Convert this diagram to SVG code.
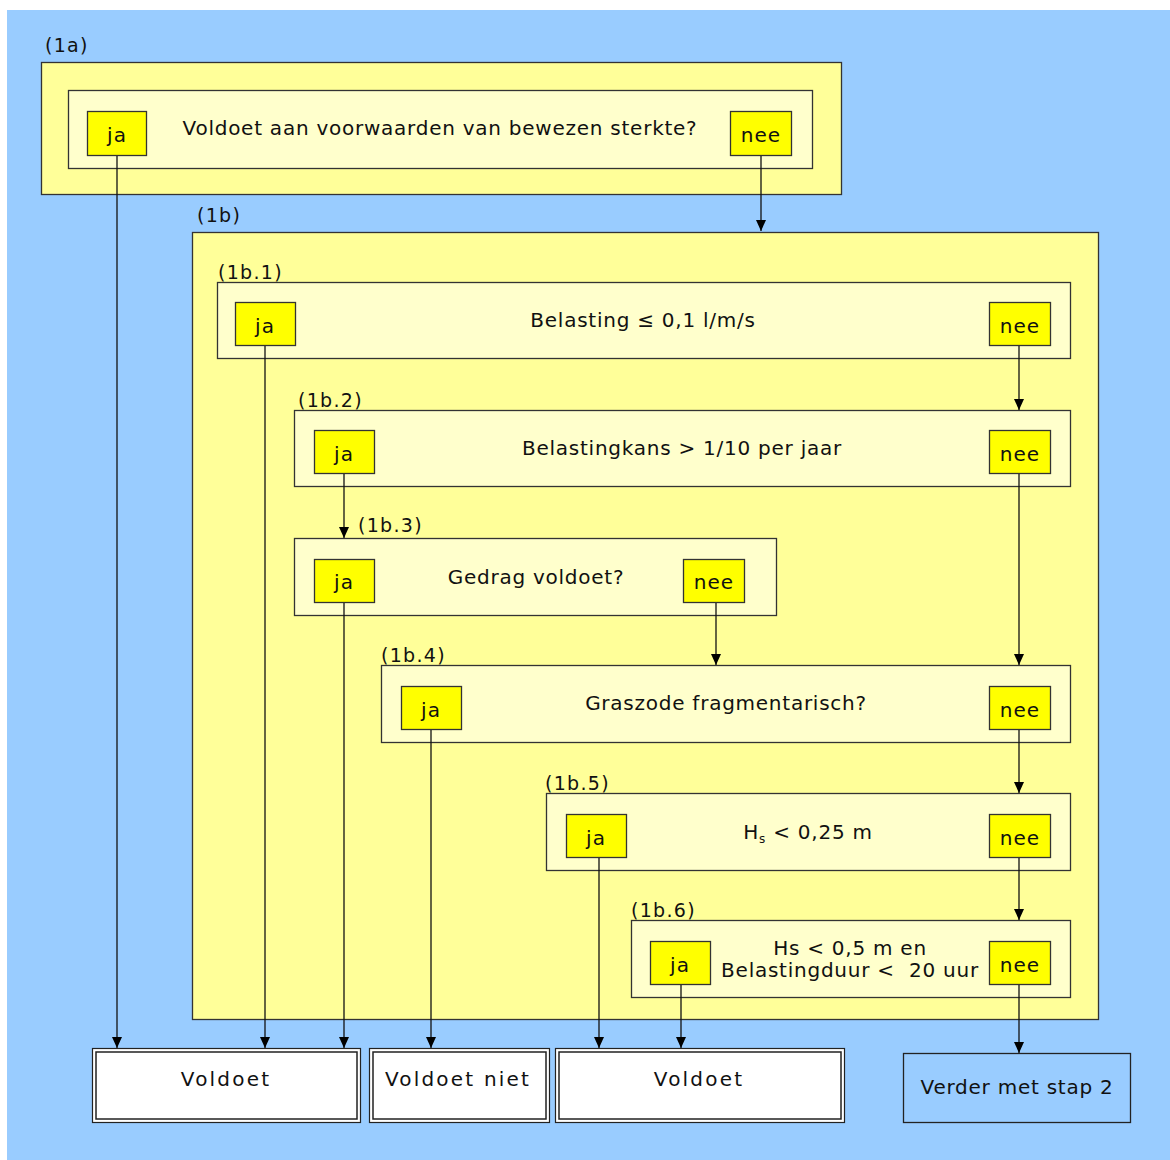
<svg xmlns="http://www.w3.org/2000/svg" width="1170" height="1160" viewBox="0 0 1170 1160">
<defs>
<marker id="ah" markerWidth="12" markerHeight="10" refX="11" refY="5" orient="auto" markerUnits="userSpaceOnUse">
<path d="M0,0 L11,5 L0,10 Z" fill="#000"/>
</marker>
<style>
text{font-family:"DejaVu Sans","Verdana",sans-serif;fill:#111;}
.t{font-size:20px;text-anchor:middle;letter-spacing:0.75px;}
.b{font-size:20px;text-anchor:middle;letter-spacing:1px;}
.e{font-size:20px;text-anchor:middle;letter-spacing:2.2px;}
.lbl{font-size:19px;letter-spacing:1.3px;}
.outer{fill:#FFFF99;stroke:#333;stroke-width:1.3;}
.inner{fill:#FFFFCC;stroke:#333;stroke-width:1.3;}
.btn{fill:#FFFF00;stroke:#333;stroke-width:1.3;}
.end{fill:#fff;stroke:#222;stroke-width:1.2;}
.conn line{stroke:#111;stroke-width:1.3;marker-end:url(#ah);}
</style>
</defs>
<rect x="0" y="0" width="1170" height="1160" fill="#fff"/>
<rect x="7" y="10" width="1163" height="1150" fill="#99CCFF"/>

<g id="n1a">
<text class="lbl" x="45" y="52">(1a)</text>
<rect class="outer" x="41.5" y="62.5" width="800" height="132"/>
<rect class="inner" x="68.5" y="90.5" width="744" height="78"/>
<text class="t" x="440" y="135">Voldoet aan voorwaarden van bewezen sterkte?</text>
</g>
<g id="n1a-ja"><rect class="btn" x="87.5" y="111.5" width="59" height="44"/><text class="b" x="117" y="142">ja</text></g>
<g id="n1a-nee"><rect class="btn" x="730.5" y="111.5" width="61" height="44"/><text class="b" x="761" y="142">nee</text></g>

<g id="n1b">
<text class="lbl" x="197" y="222">(1b)</text>
<rect class="outer" x="192.5" y="232.5" width="906" height="787"/>
</g>

<g id="n1b1">
<text class="lbl" x="218" y="279">(1b.1)</text>
<rect class="inner" x="217.5" y="282.5" width="853" height="76"/>
<text class="t" x="643" y="327">Belasting ≤ 0,1 l/m/s</text>
</g>
<g id="n1b1-ja"><rect class="btn" x="235.5" y="302.5" width="60" height="43"/><text class="b" x="265" y="333">ja</text></g>
<g id="n1b1-nee"><rect class="btn" x="989.5" y="302.5" width="61" height="43"/><text class="b" x="1020" y="333">nee</text></g>

<g id="n1b2">
<text class="lbl" x="298" y="407">(1b.2)</text>
<rect class="inner" x="294.5" y="410.5" width="776" height="76"/>
<text class="t" x="682" y="455">Belastingkans &gt; 1/10 per jaar</text>
</g>
<g id="n1b2-ja"><rect class="btn" x="314.5" y="430.5" width="60" height="43"/><text class="b" x="344" y="461">ja</text></g>
<g id="n1b2-nee"><rect class="btn" x="989.5" y="430.5" width="61" height="43"/><text class="b" x="1020" y="461">nee</text></g>

<g id="n1b3">
<text class="lbl" x="358" y="532">(1b.3)</text>
<rect class="inner" x="294.5" y="538.5" width="482" height="77"/>
<text class="t" x="536" y="584">Gedrag voldoet?</text>
</g>
<g id="n1b3-ja"><rect class="btn" x="314.5" y="559.5" width="60" height="43"/><text class="b" x="344" y="589">ja</text></g>
<g id="n1b3-nee"><rect class="btn" x="683.5" y="559.5" width="61" height="43"/><text class="b" x="714" y="589">nee</text></g>

<g id="n1b4">
<text class="lbl" x="381" y="662">(1b.4)</text>
<rect class="inner" x="381.5" y="665.5" width="689" height="77"/>
<text class="t" x="726" y="710">Graszode fragmentarisch?</text>
</g>
<g id="n1b4-ja"><rect class="btn" x="401.5" y="686.5" width="60" height="43"/><text class="b" x="431" y="717">ja</text></g>
<g id="n1b4-nee"><rect class="btn" x="989.5" y="686.5" width="61" height="43"/><text class="b" x="1020" y="717">nee</text></g>

<g id="n1b5">
<text class="lbl" x="545" y="790">(1b.5)</text>
<rect class="inner" x="546.5" y="793.5" width="524" height="77"/>
<text class="t" x="808" y="839">H<tspan font-size="12" dy="4">s</tspan><tspan dy="-4"> &lt; 0,25 m</tspan></text>
</g>
<g id="n1b5-ja"><rect class="btn" x="566.5" y="814.5" width="60" height="43"/><text class="b" x="596" y="845">ja</text></g>
<g id="n1b5-nee"><rect class="btn" x="989.5" y="814.5" width="61" height="43"/><text class="b" x="1020" y="845">nee</text></g>

<g id="n1b6">
<text class="lbl" x="631" y="917">(1b.6)</text>
<rect class="inner" x="631.5" y="920.5" width="439" height="77"/>
<text class="t" x="850" y="955">Hs &lt; 0,5 m en</text>
<text class="t" x="850" y="977" xml:space="preserve">Belastingduur &lt;  20 uur</text>
</g>
<g id="n1b6-ja"><rect class="btn" x="650.5" y="941.5" width="60" height="43"/><text class="b" x="680" y="972">ja</text></g>
<g id="n1b6-nee"><rect class="btn" x="989.5" y="941.5" width="61" height="43"/><text class="b" x="1020" y="972">nee</text></g>

<g id="end1"><rect class="end" x="92.5" y="1048.5" width="268" height="74"/><rect fill="none" stroke="#222" stroke-width="1.5" x="96" y="1052" width="261" height="67"/><text class="e" x="226" y="1086">Voldoet</text></g>
<g id="end2"><rect class="end" x="369.5" y="1048.5" width="180" height="74"/><rect fill="none" stroke="#222" stroke-width="1.5" x="373" y="1052" width="173" height="67"/><text class="e" x="458" y="1086">Voldoet niet</text></g>
<g id="end3"><rect class="end" x="555.5" y="1048.5" width="289" height="74"/><rect fill="none" stroke="#222" stroke-width="1.5" x="559" y="1052" width="282" height="67"/><text class="e" x="699" y="1086">Voldoet</text></g>
<g id="end4"><rect fill="#99CCFF" stroke="#222" stroke-width="1.3" x="903.5" y="1053.5" width="227" height="69"/><text class="t" x="1017" y="1094">Verder met stap 2</text></g>

<g id="connectors" class="conn">
<line x1="117" y1="156" x2="117" y2="1048"/>
<line x1="761" y1="156" x2="761" y2="231"/>
<line x1="265" y1="346" x2="265" y2="1048"/>
<line x1="1019" y1="346" x2="1019" y2="410"/>
<line x1="344" y1="474" x2="344" y2="538"/>
<line x1="1019" y1="474" x2="1019" y2="665"/>
<line x1="344" y1="603" x2="344" y2="1048"/>
<line x1="716" y1="603" x2="716" y2="665"/>
<line x1="431" y1="730" x2="431" y2="1048"/>
<line x1="1019" y1="730" x2="1019" y2="793"/>
<line x1="599" y1="858" x2="599" y2="1048"/>
<line x1="1019" y1="858" x2="1019" y2="920"/>
<line x1="681" y1="985" x2="681" y2="1048"/>
<line x1="1019" y1="985" x2="1019" y2="1053"/>
</g>
</svg>
